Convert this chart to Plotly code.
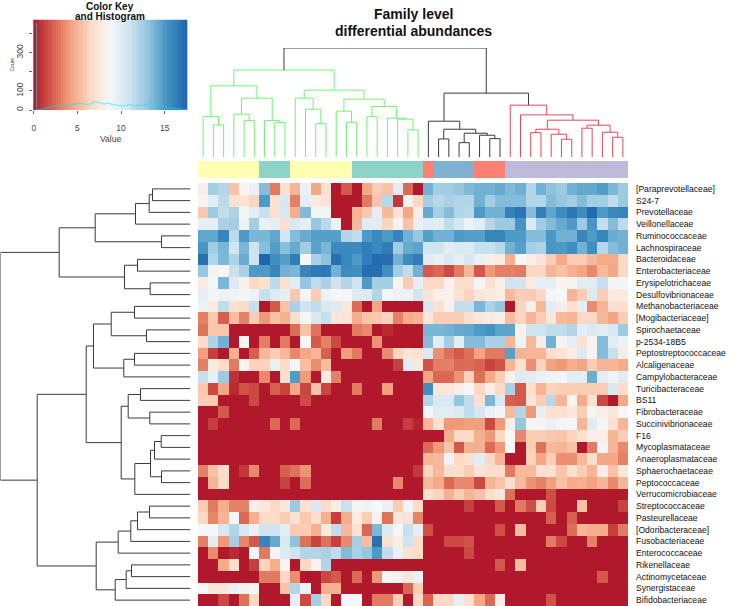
import numpy as np
import plotly.graph_objects as go

W, H = 740, 606

row_labels = ["[Paraprevotellaceae]", "S24-7", "Prevotellaceae", "Veillonellaceae", "Ruminococcaceae",
              "Lachnospiraceae", "Bacteroidaceae", "Enterobacteriaceae", "Erysipelotrichaceae",
              "Desulfovibrionaceae", "Methanobacteriaceae", "[Mogibacteriaceae]", "Spirochaetaceae",
              "p-2534-18B5", "Peptostreptococcaceae", "Alcaligenaceae", "Campylobacteraceae",
              "Turicibacteraceae", "BS11", "Fibrobacteraceae", "Succinivibrionaceae", "F16",
              "Mycoplasmataceae", "Anaeroplasmataceae", "Sphaerochaetaceae", "Peptococcaceae",
              "Verrucomicrobiaceae", "Streptococcaceae", "Pasteurellaceae", "[Odoribacteraceae]",
              "Fusobacteriaceae", "Enterococcaceae", "Rikenellaceae", "Actinomycetaceae",
              "Synergistaceae", "Bifidobacteriaceae"]

# Values, first 22 columns (green cluster)
heat_left = [
    [8, 12.5, 12, 5.5, 8.5, 9.5, 13.5, 3, 7, 5, 9.5, 4.5, 7, 0, 2, 0, 4.5, 6, 5.5, 10, 2.5, 0],
    [8.5, 10, 11.7, 7, 7.2, 6.3, 15, 7, 10.6, 3.2, 9.8, 7.7, 7.2, 0, 0, 0, 3, 5.6, 11.8, 1, 8.3, 6.4],
    [5.8, 12.7, 11.5, 12.2, 9, 9.8, 11.2, 7, 10.5, 4.8, 13.6, 9, 9, 0, 0, 5, 5.8, 9.8, 5.2, 7.2, 4.5, 8],
    [9.7, 9.7, 12.3, 12.5, 9.3, 12.5, 9.5, 9.8, 6.9, 10.5, 9.8, 13, 11.7, 9.4, 0, 5.2, 10, 10, 6.3, 8.3, 5.5, 9.7],
    [14.5, 14.5, 16, 11.7, 15, 13.8, 13.8, 14.5, 10.8, 13.5, 14.3, 14.8, 14.8, 14.8, 12, 11.5, 15, 15.8, 15, 16, 14, 13],
    [15.2, 12.6, 13.8, 10.9, 13.8, 11, 13.4, 14.9, 13.4, 14.3, 12.6, 14.7, 13.8, 15.8, 15.8, 15.8, 16.4, 15.8, 16.4, 12.6, 14.3, 14.6],
    [17, 12, 13.7, 12.2, 14.2, 11, 17.5, 15.5, 14.8, 16.4, 9, 12.3, 13.2, 17, 15.9, 15, 16.4, 17.3, 17.1, 14, 15.7, 16.5],
    [12.9, 9.1, 8.5, 11.2, 12.3, 15, 15, 16, 14, 13.8, 16, 16.6, 16.6, 14, 15.7, 15.5, 17.1, 17.1, 15.5, 12.5, 11.5, 14],
    [7.8, 8.9, 13.8, 10.2, 8.3, 6.5, 7, 11.7, 7, 10, 13, 11.5, 12.3, 11, 12, 11, 15, 12.5, 12.5, 8.4, 5.9, 9.7],
    [9.8, 9, 9.3, 9.2, 9, 9.4, 11.3, 10.3, 9.7, 5.8, 8.6, 6, 9.3, 8.7, 8.7, 10.3, 10.3, 12, 9, 9.4, 9.3, 10.8],
    [9.4, 7.8, 11.5, 7, 6.7, 11.3, 0, 2, 5.5, 12.3, 11, 11.5, 10.5, 10.2, 7.5, 2.6, 0, 4.4, 0, 0, 0, 0],
    [3.2, 5.8, 2.2, 5.3, 3.3, 6, 4, 5.5, 4.8, 6.8, 8.6, 10.5, 11.3, 7.4, 7.3, 4.7, 5.7, 5.8, 6.2, 3.2, 4.7, 5],
    [2.8, 5.7, 5.7, 0, 0, 0, 0, 0, 0, 2.6, 5.5, 2.8, 0, 0, 0, 3, 3.5, 0, 0.5, 0, 0, 0],
    [6.7, 12.2, 14, 0, 8.6, 0, 3.1, 0, 3, 0, 8.9, 2, 3.3, 1.5, 0, 0, 0, 3.8, 0, 0, 0, 0],
    [4.2, 1.2, 0, 4.8, 0, 2.2, 5.1, 6, 5.1, 3.5, 4.5, 5, 2.2, 0, 4.2, 3, 0, 0, 3.6, 6.3, 7.2, 7],
    [3.2, 7.8, 6.7, 3, 8.5, 6.2, 6.2, 9.6, 6.7, 9, 5.4, 3.6, 5.3, 0, 0, 0, 0, 0, 0, 1.2, 10, 7.5],
    [11.3, 9.7, 12.8, 0.8, 0, 0, 3.5, 0, 6.8, 14.9, 4.1, 0, 7.8, 3.2, 0, 0, 0, 0, 0, 0, 0, 0],
    [5.8, 1.5, 4.4, 0.5, 1.8, 1.5, 0, 2.2, 1.3, 4.5, 1.4, 5.6, 1.4, 0, 0, 3, 0, 0, 4.2, 0, 0, 0],
    [6, 6, 0, 0, 0, 1.5, 0, 0, 0, 0, 1.6, 0, 0, 0, 0, 0, 0, 0, 0, 0, 0, 0],
    [0, 0, 2, 0, 0, 0, 0, 0, 0, 0, 0, 0, 0, 0, 0, 0, 0, 0, 0, 0, 0, 0],
    [0, 1.2, 0, 0, 0, 0, 0, 2.5, 0, 2.5, 0, 0, 0, 0, 0, 0, 0, 3, 0, 0, 1.2, 0.3],
    [0] * 22,
    [0] * 22,
    [0] * 22,
    [3.2, 5.5, 6.7, 0, 1, 3.5, 0, 0, 2.2, 2.8, 3.8, 0, 0, 0, 0, 0, 0, 0, 0, 0, 0, 1],
    [0, 5, 6.7, 0, 0, 0, 0, 0, 1.3, 0, 2.6, 0, 0, 0, 0, 0, 0, 0, 0, 3.5, 0, 0],
    [0] * 22,
    [6, 3, 4.8, 3.3, 3.3, 8, 7.5, 6.5, 7.5, 12.8, 7, 10.5, 6.7, 8, 11.2, 8.4, 9.4, 8.8, 9.5, 6, 9, 6.7],
    [6.5, 3.4, 5, 8.9, 2.5, 4.8, 6.7, 6.7, 6, 7, 5.8, 6.8, 4.8, 1.2, 4.7, 7.8, 6, 8.3, 2.8, 7.5, 7.3, 3.3],
    [8.9, 8.9, 10.6, 12, 10.5, 9.5, 11, 11, 10, 5.9, 6, 4.8, 7.8, 11.5, 5.2, 7, 2.4, 13.7, 10.3, 9, 11.3, 9.8],
    [3.2, 10, 4, 12.5, 3.4, 2, 16, 14.3, 10.5, 13.2, 2.7, 1.3, 2.7, 1.2, 3.5, 12.4, 5.3, 17, 7, 8, 11, 6.7],
    [0, 3.6, 0, 0.5, 0, 9, 3, 8.6, 10.3, 11, 12, 12, 12.3, 11.5, 13.5, 12.3, 13, 15, 11.5, 9.5, 7, 6.7],
    [0, 0, 4.6, 6.8, 0, 1.2, 6.3, 4.7, 8.5, 0, 6.5, 8.4, 12, 0, 0, 0, 0, 0, 0, 0, 0, 0],
    [0, 0, 0, 0, 0, 0, 3, 3, 6.5, 3.6, 0, 0, 1.4, 2, 0, 2.5, 0, 4, 9, 8.3, 7.5, 9.5],
    [8.9, 7.5, 7.5, 9.5, 8.3, 8.5, 0, 0, 5.5, 12, 9.5, 0, 4.8, 4.8, 0, 0, 0, 0, 0, 0, 2.4, 6],
    [0, 0, 1.5, 0, 2.8, 6.5, 0, 0, 0, 9.8, 1.5, 12.5, 6.5, 0, 9, 9, 0, 3, 3, 6, 0, 6.5],
]

# Remaining 20 columns (black and red clusters)
heat_right = [
    [14, 12.5, 12.6, 13, 13.6, 14, 14, 14.3, 13.6, 14.1, 12, 14, 13.2, 12.7, 14, 14.4, 14.4, 14.9, 13.7, 12.7],
    [12.5, 11.8, 12.3, 12, 12, 14, 12.5, 13.5, 13.5, 13.5, 12, 12, 13.5, 13, 12.5, 13.5, 12.5, 12.5, 11.5, 12.8],
    [14.3, 12.5, 13.5, 12, 11.8, 15, 14, 14, 16.2, 16.8, 13.5, 16.3, 14.5, 15.7, 16.7, 15.7, 17.3, 15, 15.9, 16.1],
    [10, 10, 11.5, 10.7, 9.4, 10, 11.8, 12.8, 12.8, 15.3, 10.5, 12.6, 13.5, 14.3, 15, 12.7, 15.2, 11.4, 13.5, 11.6],
    [14.8, 14, 14, 15, 14.8, 14.8, 16, 16, 15, 15, 13.5, 13.5, 15.1, 14, 14, 16, 15, 16, 14.2, 14],
    [10.8, 11, 10, 10.5, 10.3, 11.3, 11.3, 11.8, 14, 14.8, 12.5, 12.2, 15.2, 15, 15.6, 14, 15.5, 11.8, 13.5, 14],
    [10, 9.7, 10.5, 9.8, 10.7, 9.5, 8, 7.8, 4.8, 8.7, 8, 7.3, 6, 4.6, 6, 6, 5.2, 4.6, 4.6, 6.4],
    [2, 2.4, 1.5, 3, 5, 2, 4, 3.2, 3.2, 3, 6.4, 6.4, 5, 5.5, 4.8, 4.4, 3.5, 5.2, 4.5, 6.5],
    [6.5, 6.5, 8.3, 6.8, 6.8, 8.6, 7, 8, 11, 10.8, 7.8, 9.8, 9.8, 8.5, 8.5, 10, 10, 11.3, 9, 9],
    [7.2, 8.2, 8.3, 7.1, 6.3, 7.4, 7.7, 8, 5.2, 6, 5.9, 6.5, 9, 8.8, 5, 6, 10.3, 6, 7.8, 7.8],
    [10.5, 7, 8.3, 11.4, 11.4, 13.8, 12.2, 13, 0, 6.3, 8.2, 5.2, 10, 8, 7, 9.8, 3.6, 5, 7, 6.9],
    [7.6, 6, 6, 6, 6.8, 7.5, 7.8, 8, 5.3, 6.3, 5, 6, 7.5, 5.2, 5, 6.5, 6.5, 5.2, 4.4, 6],
    [13.8, 13.8, 14, 14.3, 14.5, 15, 15.3, 14.6, 14.6, 8.3, 11, 11, 11.5, 11.5, 12, 9.8, 10.5, 10, 10.5, 12.7],
    [13.5, 10, 12.5, 10, 13.5, 13.5, 12.3, 12.3, 5, 9.3, 5.2, 8, 14, 8.4, 9.8, 7, 8.4, 13.5, 10, 9.3],
    [10.3, 3.7, 2.7, 2, 2.7, 4.3, 3, 3, 14.8, 4.9, 5, 5, 6.8, 7.2, 8, 10.3, 8.5, 13.5, 11.3, 8],
    [1.8, 3.1, 3.2, 2.5, 2.6, 2.3, 1.3, 1.8, 5, 7, 3.7, 6.3, 4.3, 4, 4.7, 4.4, 6, 5, 5, 4.6],
    [4.4, 2.4, 2.5, 3.8, 6.2, 2.7, 4.6, 6, 8.2, 10.3, 10, 9.5, 9.2, 9, 10, 10, 14.2, 10, 9.2, 10],
    [15.5, 7.5, 7.5, 8, 8.8, 6.5, 8, 6.5, 12.3, 2, 7, 5, 6.3, 6, 6, 6, 6, 6, 10.5, 6.7],
    [12, 10.5, 10.5, 13, 11.5, 7, 13.8, 10.5, 2.2, 2, 7.3, 6, 11.8, 5, 8.6, 4.6, 7, 1.5, 0, 4.5],
    [9, 10, 10, 10.3, 11.5, 10.7, 9.5, 9, 5.2, 12, 4, 9.7, 7, 7, 7.5, 6, 8.6, 8, 7.5, 8.7],
    [5, 7, 4, 4, 4.2, 4.2, 1.5, 4, 8, 13, 9, 8.5, 9.5, 9, 9, 5, 10, 9, 7, 5],
    [0, 0, 4.7, 6.5, 6.6, 4.8, 4, 6.5, 8.8, 3.5, 6, 6, 5.8, 5.7, 6.3, 7, 8, 8, 5, 6],
    [2.5, 4, 5.6, 2, 4.8, 4.8, 2.5, 4, 9, 0, 6, 2.8, 5.2, 5, 5.5, 0, 3, 8.6, 5, 3.5],
    [5, 5.2, 9.2, 6.5, 7, 10, 6.5, 5, 0, 0, 6.2, 4.5, 6, 3.7, 3.7, 5.2, 6.8, 4.5, 4.5, 3.2],
    [6.3, 5.2, 6.8, 6.8, 6, 7.2, 6.8, 6.8, 3, 5.2, 5.2, 7, 7, 5.7, 7, 6, 5, 8, 5.5, 7.5],
    [5.2, 4.6, 2.5, 3.5, 3.5, 1.5, 5, 5.6, 6.8, 5.2, 3.8, 3.3, 4.2, 5.5, 4.6, 4.8, 4.3, 5, 3.5, 5],
    [7, 6.3, 4.8, 6, 5, 5.5, 6.8, 7.4, 2.7, 0, 0, 0, 1.7, 0, 0, 0, 0, 0, 0, 0],
    [0, 0, 0, 0, 1.2, 0, 0, 2, 0, 3, 1.6, 6, 1.5, 0, 0, 5.5, 0, 0, 0, 1.3],
    [0, 0, 0, 0, 0, 0, 0, 0, 0, 0, 0, 0, 2.2, 0, 2.2, 0, 0, 0, 0, 0],
    [1.7, 0, 0, 0, 0, 0, 0, 1.7, 0, 5.3, 0, 0, 0, 0, 2.6, 5, 4.7, 4.7, 1.2, 3],
    [0, 0, 1.5, 1.5, 1.8, 0, 0, 0, 0, 0, 0, 0, 3, 1.5, 0, 0, 3.2, 0, 0, 0],
    [0, 0, 0, 0, 1.5, 0, 0, 0, 0, 0, 0, 0, 0, 0, 0, 0, 0, 0, 0, 0],
    [0, 0, 0, 0, 0, 0, 0, 2, 0, 5.3, 0, 0, 0, 0, 0, 0, 0, 0, 0, 0],
    [0, 0, 0, 0, 0, 0, 0, 0, 0, 0, 0, 0, 0, 0, 0, 0, 0, 2, 0, 0],
    [0] * 20,
    [2.3, 6.5, 6.5, 9.7, 7, 4.5, 2.5, 8, 0, 0, 0, 0, 1.8, 0, 0, 0, 0, 0, 0, 0],
]

# column side colour groups, in run lengths
side_runs = [(0, 6), (1, 3), (0, 6), (1, 7), (2, 1), (3, 4), (2, 3), (4, 12)]
side_colors = ["#ffffb3", "#8dd3c7", "#fb8072", "#80b1d3", "#bebada"]

# dendrograms: [height, left, right], 0 is a leaf
green_tree = [86.7,
              [71, [40.3, 0, [32, 0, 0]],
               [58.7, [42.7, 0, [36.3, 0, 0]], [36.3, 0, [34.3, 0, 0]]]],
              [66.7, [58.7, 0, [47.7, 0, [33.3, 0, 0]]],
               [57.7, [45.7, 0, [34.7, 0, 0]],
                [50.3, [40.3, 0, 0], [38.7, 0, [37.7, 0, [27, 0, 0]]]]]]]
black_tree = [35.7, 0, [27.7, [18, 0, 0], [23.7, [14.3, 0, 0], [21.7, 0, [18.3, 0, 0]]]]]
red_tree = [51.7, 0, [42, 0, [36.7, [27.7, [24.3, 0, 0], [22.7, 0, [17.7, 0, 0]]],
                              [31.7, [28.7, 0, 0], [24.7, 0, [19.7, 0, 0]]]]]]
top_join_height = 63.7
top_root_height = 108.7

row_tree = [190,
            [131.3,
             [95.3, [55, [41.3, [38, 0, 0], 0], 0], [29, 0, 0]],
             [66, [53, 0, 0], [40.3, 0, 0]]],
            [153.3,
             [104.3,
              [97, [79.3, [56, 0, 0], [44, 0, 0]], [66.7, [56, 0, 0], 0]],
              [69.3, [62.3, [50, 0, 0], [40.7, 0, 0]],
               [55.7, [40, [36, [29.3, 0, 0], 0], [29, 0, 0]], 0]]],
             [94.3,
              [72.3, [59.7, [53, [41, 0, 0], 0], 0], 0],
              [75.3, [64.3, [59, 0, 0], 0], 0]]]]

# colour key histogram
hist_bins = [0.17, 0.5, 1, 1.5, 2, 2.5, 3, 3.5, 4, 4.5, 5, 5.5, 6, 6.5, 7, 7.5, 8, 8.5, 9, 9.5, 10, 10.5,
             11, 11.5, 12, 12.5, 13, 13.5, 14, 14.5, 15, 15.5, 16, 16.5, 17, 17.5]
hist_counts = [450, 3, 5, 10, 15, 20, 27, 27, 22, 28, 35, 35, 30, 32, 42, 38, 32, 36, 30, 26, 22, 22,
               28, 22, 25, 25, 30, 32, 26, 22, 18, 12, 8, 6, 3, 3]

brewer = ["#b2182b", "#d6604d", "#f4a582", "#fddbc7", "#f7f7f7", "#d1e5f0", "#92c5de", "#4393c3", "#2166ac"]
rdbu = [[i / 8, c] for i, c in enumerate(brewer)]
zmax = 17.5


def px_x(a, b):
    return [a / W, b / W]


def px_y(top, bottom):
    return [1 - bottom / H, 1 - top / H]


def label(text, x, y, size, color="#111111", angle=0):
    return dict(text=text, x=x / W, y=1 - y / H, xref="paper", yref="paper", showarrow=False,
                xanchor="center", yanchor="middle", textangle=angle, font=dict(size=size, color=color))


class Dendro:
    def __init__(self):
        self.pos = 0
        self.segs = {}

    def bracket(self, a, b, h, color):
        xs, ys = self.segs.setdefault(color, ([], []))
        xs += [a[0], a[0], b[0], b[0], None]
        ys += [a[1], h, h, b[1], None]
        return ((a[0] + b[0]) / 2, h)

    def walk(self, node, color):
        if node == 0:
            self.pos += 1
            return (self.pos - 1, 0)
        a = self.walk(node[1], color)
        b = self.walk(node[2], color)
        return self.bracket(a, b, node[0], color)


heat_values = [a + b for a, b in zip(heat_left, heat_right)]
side_codes = [code for code, n in side_runs for _ in range(n)]
n_cols = len(side_codes)
n_rows = len(row_labels)

fig = go.Figure()

# main heatmap
fig.add_trace(go.Heatmap(z=heat_values, x=list(range(n_cols)), y=list(range(n_rows)), colorscale=rdbu,
                         zmin=0, zmax=zmax, showscale=False, xaxis="x", yaxis="y"))

# side colour bar
fig.add_trace(go.Heatmap(z=[side_codes], x=list(range(n_cols)), colorscale=[[i / 4, c] for i, c in enumerate(side_colors)],
                         zmin=0, zmax=4, showscale=False, xaxis="x2", yaxis="y2"))

# top dendrogram
top = Dendro()
g = top.walk(green_tree, "#72f272")
b = top.walk(black_tree, "#3a3a3a")
r = top.walk(red_tree, "#e2495a")
m = top.bracket(b, r, top_join_height, "#3a3a3a")
top.bracket(g, m, top_root_height, "#3a3a3a")
for color, (xs, ys) in top.segs.items():
    fig.add_trace(go.Scatter(x=xs, y=ys, mode="lines", line=dict(color=color, width=1),
                             xaxis="x3", yaxis="y3", showlegend=False))

# row dendrogram
left = Dendro()
left.walk(row_tree, "#3a3a3a")
for color, (xs, ys) in left.segs.items():
    fig.add_trace(go.Scatter(x=ys, y=xs, mode="lines", line=dict(color=color, width=1),
                             xaxis="x4", yaxis="y4", showlegend=False))

# colour key
key_levels = np.linspace(0, zmax, 60)
fig.add_trace(go.Heatmap(z=[key_levels], x=key_levels, colorscale=rdbu, zmin=0, zmax=zmax, showscale=False,
                         xaxis="x5", yaxis="y6"))
fig.add_trace(go.Scatter(x=hist_bins, y=hist_counts, mode="lines", line=dict(color="rgba(0,235,235,0.6)", width=1, shape="hvh"),
                         xaxis="x5", yaxis="y5", showlegend=False))

font = "Liberation Sans, Arial, sans-serif"
fig.update_layout(
    width=W, height=H, autosize=False,
    margin=dict(l=0, r=0, t=0, b=0, autoexpand=False),
    paper_bgcolor="white", plot_bgcolor="white",
    showlegend=False,
    font=dict(family=font, color="#222222"),
    xaxis=dict(domain=px_x(198, 628), range=[-0.5, n_cols - 0.5], visible=False, anchor="y"),
    yaxis=dict(domain=px_y(183, 606), range=[n_rows - 0.5, -0.5], side="right", anchor="x",
               tickmode="array", tickvals=list(range(n_rows)), ticktext=row_labels,
               ticks="", showgrid=False, zeroline=False, showline=False,
               tickfont=dict(size=8.6, color="#111111"), ticklabelstandoff=7),
    xaxis2=dict(domain=px_x(198, 628), range=[-0.5, n_cols - 0.5], visible=False, anchor="y2"),
    yaxis2=dict(domain=px_y(161, 178), visible=False, anchor="x2"),
    xaxis3=dict(domain=px_x(198, 628), range=[-0.5, n_cols - 0.5], visible=False, anchor="y3"),
    yaxis3=dict(domain=px_y(48, 157), range=[0, top_root_height], visible=False, anchor="x3"),
    xaxis4=dict(domain=px_x(0.5, 190.5), range=[190, 0], visible=False, anchor="y4"),
    yaxis4=dict(domain=px_y(183, 606), range=[n_rows - 0.5, -0.5], visible=False, anchor="x4"),
    xaxis5=dict(domain=px_x(33.3, 187.7), range=[-0.05, 17.64], anchor="y5", tickmode="array",
                tickvals=[0, 5, 10, 15], ticks="outside", ticklen=3, tickwidth=0.7, tickcolor="#666666",
                showgrid=False, zeroline=False, tickfont=dict(size=8.5, color="#444444"), ticklabelstandoff=7),
    yaxis5=dict(domain=px_y(19.5, 110), range=[0, 473], anchor="x5", tickmode="array",
                tickvals=[0, 100, 200, 300, 400], ticktext=["0", "100", "", "300", ""], tickangle=-90,
                ticks="outside", ticklen=3, tickwidth=0.7, tickcolor="#666666",
                showgrid=False, zeroline=False, tickfont=dict(size=8.5, color="#444444"), ticklabelstandoff=3,
                overlaying="y6"),
    yaxis6=dict(domain=px_y(19.5, 110), range=[0.5, -0.5], visible=False, anchor="x5"),
    annotations=[
        label("<b>Family level</b>", 413, 14, 14),
        label("<b>differential abundances</b>", 413, 31, 14),
        label("<b>Color Key</b>", 110, 6, 10),
        label("<b>and Histogram</b>", 110, 16.5, 10),
        label("Value", 110, 139, 8.5, "#444444"),
        label("Count", 11.5, 65, 5, "#444444", -90),
    ],
)

fig.write_html("out.html", config={"displayModeBar": False}, post_script="document.body.style.margin='0';")
